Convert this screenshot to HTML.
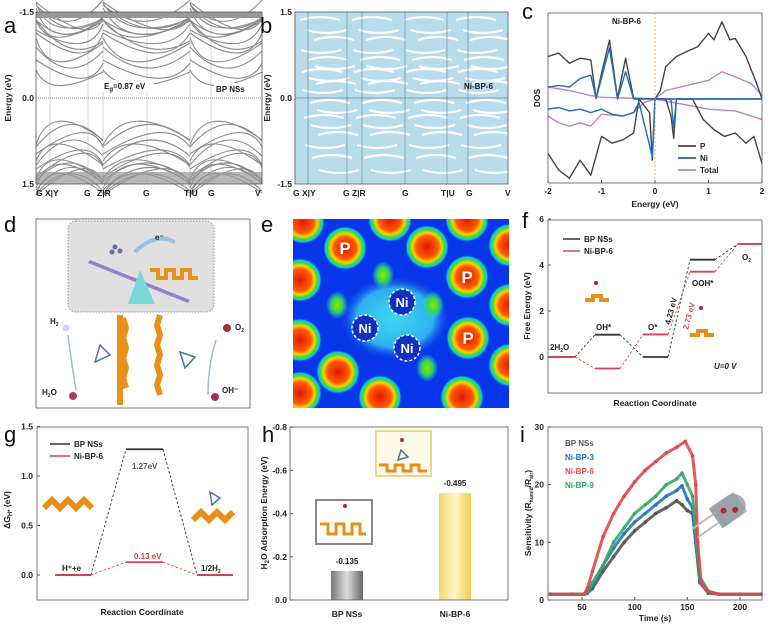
<!DOCTYPE html>
<html><head><meta charset="utf-8">
<style>
body{margin:0;background:#fff;}
svg{display:block;font-family:"Liberation Sans",Arial,sans-serif;}
.t{font-size:8px;font-weight:bold;fill:#222;}
.ax{font-size:8.5px;font-weight:bold;fill:#222;}
.let{font-size:22px;fill:#111;}
</style></head>
<body>
<svg id="fig" width="779" height="634" viewBox="0 0 779 634">
<defs>
<radialGradient id="spot"><stop offset="0" stop-color="#e01800"/><stop offset="0.5" stop-color="#ff5a00"/><stop offset="0.66" stop-color="#ffd000"/><stop offset="0.8" stop-color="#30e040"/><stop offset="0.9" stop-color="#10c8e0"/><stop offset="1" stop-color="#1040e8" stop-opacity="0"/></radialGradient>
<radialGradient id="gspot"><stop offset="0" stop-color="#a0e000"/><stop offset="0.5" stop-color="#30d850"/><stop offset="1" stop-color="#30e0c0" stop-opacity="0"/></radialGradient>
<radialGradient id="cyan"><stop offset="0" stop-color="#40d8f0"/><stop offset="0.7" stop-color="#30b0f0"/><stop offset="1" stop-color="#1040e8" stop-opacity="0"/></radialGradient>
<linearGradient id="gbar" x1="0" x2="1"><stop offset="0" stop-color="#777"/><stop offset="0.5" stop-color="#ddd"/><stop offset="1" stop-color="#666"/></linearGradient>
<linearGradient id="ybar" x1="0" x2="1"><stop offset="0" stop-color="#f5d870"/><stop offset="0.5" stop-color="#fff6c8"/><stop offset="1" stop-color="#f0cc50"/></linearGradient>
</defs>

<!-- Panel a -->
<g>
<text class="let" x="4" y="33">a</text>
<g id="bandsA"></g>
<rect x="36" y="12" width="226" height="172" fill="none" stroke="#555" stroke-width="0.8"/>
<line x1="36" y1="98" x2="262" y2="98" stroke="#888" stroke-dasharray="1,1"/>
<text class="ax" x="34" y="15" text-anchor="end">-1.5</text>
<text class="ax" x="34" y="101" text-anchor="end">0.0</text>
<text class="ax" x="34" y="187" text-anchor="end">1.5</text>
<text class="ax" transform="translate(11,98) rotate(-90)" text-anchor="middle">Energy (eV)</text>
<text class="ax" x="36" y="196">G X|Y</text><text class="ax" x="84" y="196">G</text><text class="ax" x="97" y="196">Z|R</text><text class="ax" x="143" y="196">G</text><text class="ax" x="184" y="196">T|U</text><text class="ax" x="208" y="196">G</text><text class="ax" x="255" y="196">V</text>
<rect x="102" y="80" width="52" height="12" fill="#fff"/>
<text class="t" x="104" y="89">E<tspan font-size="6" dy="2">g</tspan><tspan dy="-2">=0.87 eV</tspan></text>
<rect x="214" y="83" width="44" height="12" fill="#fff"/>
<text class="t" x="216" y="92">BP NSs</text>
</g>

<!-- Panel b -->
<g>
<text class="let" x="260" y="33">b</text>
<rect x="295" y="12" width="213" height="172" fill="#b9dcec"/>
<g id="bandsB"></g>
<rect x="295" y="12" width="213" height="172" fill="none" stroke="#555" stroke-width="0.8"/>
<line x1="295" y1="98" x2="508" y2="98" stroke="#557" stroke-width="0.6"/>
<text class="ax" x="292" y="15" text-anchor="end">1.5</text>
<text class="ax" x="292" y="101" text-anchor="end">0.0</text>
<text class="ax" x="292" y="187" text-anchor="end">-1.5</text>
<text class="ax" transform="translate(270,98) rotate(-90)" text-anchor="middle">Energy (eV)</text>
<text class="ax" x="293" y="196">G X|Y</text><text class="ax" x="343" y="196">G Z|R</text><text class="ax" x="402" y="196">G</text><text class="ax" x="441" y="196">T|U</text><text class="ax" x="466" y="196">G</text><text class="ax" x="505" y="196">V</text>
<text class="t" x="464" y="89">Ni-BP-6</text>
</g>

<!-- Panel c -->
<g>
<text class="let" x="522" y="19">c</text>
<g id="dosC"></g>
<rect x="548" y="13" width="214" height="170" fill="none" stroke="#555" stroke-width="0.8"/>
<line x1="655" y1="13" x2="655" y2="183" stroke="#e0a040" stroke-dasharray="2,2" stroke-width="0.8"/>
<text class="t" x="612" y="24">Ni-BP-6</text>
<g id="cTicks"></g>
<text class="ax" x="655" y="207" text-anchor="middle">Energy (eV)</text>
<text class="ax" transform="translate(540,98) rotate(-90)" text-anchor="middle">DOS</text>
<line x1="678" y1="146" x2="696" y2="146" stroke="#444" stroke-width="1.8"/><text class="t" x="700" y="149">P</text>
<line x1="678" y1="158" x2="696" y2="158" stroke="#1d5fa8" stroke-width="1.8"/><text class="t" x="700" y="161">Ni</text>
<line x1="678" y1="170" x2="696" y2="170" stroke="#c080d0" stroke-width="1.8"/><text class="t" x="700" y="173">Total</text>
</g>

<!-- Panel d -->
<g>
<text class="let" x="4" y="232">d</text>
<rect x="36" y="219" width="214" height="189" fill="#fff" stroke="#555" stroke-width="0.8"/>
<rect x="68" y="221" width="146" height="91" rx="8" fill="#e0e0e0" stroke="#999" stroke-dasharray="1.5,1.5"/>
<polygon points="90,260 190,300 188,303 88,263" fill="#9a7ec8"/>
<polygon points="140,270 155,304 128,304" fill="#7cd8d8"/>
<path d="M135,252 q20,-20 40,-10" fill="none" stroke="#9cc0e0" stroke-width="4"/>
<text class="t" x="155" y="240">e⁻</text>
<circle cx="115" cy="247" r="2.5" fill="#6070a0"/><circle cx="120" cy="251" r="2.5" fill="#6070a0"/><circle cx="112" cy="252" r="2.5" fill="#6070a0"/>
<path d="M150,270 h8 v8 h8 v-8 h8 v8 h8 v-8 h8 v8 h8" fill="none" stroke="#e8901a" stroke-width="4"/>
<path d="M120,315 v90 M123,318 l3,10 l-3,10 l3,10 l-3,10 l3,10 l-3,10 l3,10" fill="none" stroke="#e8901a" stroke-width="6"/>
<path d="M160,315 l-3,10 l3,10 l-3,10 l3,10 l-3,10 l3,10 l-3,10 l3,10" fill="none" stroke="#e8901a" stroke-width="6"/>
<polygon points="100,345 110,355 95,362" fill="none" stroke="#5070a0" stroke-width="1.5"/>
<polygon points="180,352 195,357 185,368" fill="none" stroke="#5070a0" stroke-width="1.5"/>
<text class="t" x="50" y="324">H<tspan font-size="5" dy="2">2</tspan></text>
<circle cx="66" cy="328" r="3.5" fill="#d8d0e8"/>
<path d="M76,390 q-5,-30 -8,-55" fill="none" stroke="#a8b8d0" stroke-width="1.5"/>
<text class="t" x="42" y="395">H<tspan font-size="5" dy="2">2</tspan><tspan dy="-2">O</tspan></text>
<circle cx="73" cy="396" r="4" fill="#b04050"/>
<text class="t" x="235" y="330">O<tspan font-size="5" dy="2">2</tspan></text>
<circle cx="227" cy="328" r="4" fill="#a03040"/>
<path d="M208,395 q0,-30 8,-55" fill="none" stroke="#a8b8d0" stroke-width="1.5"/>
<text class="t" x="222" y="393">OH⁻</text>
<circle cx="215" cy="397" r="4" fill="#a03060"/>
</g>

<!-- Panel e -->
<g>
<text class="let" x="261" y="232">e</text>
<svg x="293" y="219" width="216" height="189" viewBox="293 219 216 189" overflow="hidden">
<rect x="293" y="219" width="216" height="189" fill="#0636e8"/>
<ellipse cx="395" cy="318" rx="55" ry="42" fill="url(#cyan)"/>
<g id="eSpots"></g>
</svg>
</g>

<!-- Panel f -->
<g>
<text class="let" x="522" y="228">f</text>
<g id="fPlot"></g>
<rect x="548" y="220" width="214" height="173" fill="none" stroke="#555" stroke-width="0.8"/>
<text class="ax" transform="translate(530,306) rotate(-90)" text-anchor="middle">Free Energy (eV)</text>
<text class="ax" x="655" y="406" text-anchor="middle">Reaction Coordinate</text>
<line x1="563" y1="239" x2="580" y2="239" stroke="#333" stroke-width="1.5"/><text class="t" x="584" y="242">BP NSs</text>
<line x1="563" y1="251" x2="580" y2="251" stroke="#d64550" stroke-width="1.5"/><text class="t" x="584" y="254">Ni-BP-6</text>
<text class="t" x="550" y="350">2H<tspan font-size="5" dy="2">2</tspan><tspan dy="-2">O</tspan></text>
<text class="t" x="596" y="330">OH*</text>
<text class="t" x="648" y="330">O*</text>
<text class="t" x="692" y="286">OOH*</text>
<text class="t" x="742" y="260">O<tspan font-size="5" dy="2">2</tspan></text>
<text class="t" x="714" y="369" font-style="italic">U=0 V</text>
<text class="t" transform="translate(670,325) rotate(-75)" fill="#333">4.23 eV</text>
<text class="t" transform="translate(688,330) rotate(-75)" style="fill:#d64550">2.73 eV</text>
<path d="M585,300 h8 v-4 h8 v4 h8" fill="none" stroke="#e8901a" stroke-width="4"/>
<circle cx="596" cy="283" r="2" fill="#c02030"/>
<path d="M690,335 h8 v-4 h8 v4 h8" fill="none" stroke="#e8901a" stroke-width="4"/>
<circle cx="701" cy="308" r="2" fill="#c02030"/>
</g>

<!-- Panel g -->
<g>
<text class="let" x="4" y="442">g</text>
<g id="gPlot"></g>
<rect x="37" y="427" width="211" height="173" fill="none" stroke="#555" stroke-width="0.8"/>
<text class="ax" transform="translate(10,510) rotate(-90)" text-anchor="middle">ΔG<tspan font-size="6" dy="2">H*</tspan><tspan dy="-2"> (eV)</tspan></text>
<text class="ax" x="142" y="615" text-anchor="middle">Reaction Coordinate</text>
<line x1="50" y1="444" x2="70" y2="444" stroke="#333" stroke-width="1.5"/><text class="t" x="74" y="447">BP NSs</text>
<line x1="50" y1="456" x2="70" y2="456" stroke="#d64550" stroke-width="1.5"/><text class="t" x="74" y="459">Ni-BP-6</text>
<text class="t" x="132" y="469" style="fill:#555">1.27eV</text>
<text class="t" x="134" y="559" style="fill:#d64550">0.13 eV</text>
<text class="t" x="62" y="571">H⁺+e</text>
<text class="t" x="201" y="571">1/2H<tspan font-size="5" dy="2">2</tspan></text>
<path d="M44,508 l8,-8 l8,8 l8,-8 l8,8 l8,-8 l8,8" fill="none" stroke="#e8901a" stroke-width="6"/>
<path d="M193,520 l8,-8 l8,8 l8,-8 l8,8 l8,-8" fill="none" stroke="#e8901a" stroke-width="6"/>
<polygon points="210,492 220,498 212,505" fill="none" stroke="#5070b0" stroke-width="1.5"/>
</g>

<!-- Panel h -->
<g>
<text class="let" x="262" y="442">h</text>
<g id="hPlot"></g>
<rect x="290" y="427" width="218" height="173" fill="none" stroke="#555" stroke-width="0.8"/>
<text class="ax" transform="translate(267,513) rotate(-90)" text-anchor="middle">H<tspan font-size="6" dy="2">2</tspan><tspan dy="-2">O Adsorption Energy (eV)</tspan></text>
<rect x="316" y="500" width="56" height="44" fill="#fff" stroke="#888" stroke-width="2"/>
<path d="M320,524 h8 v10 h8 v-10 h8 v10 h8 v-10 h8 v10 h6" fill="none" stroke="#e8901a" stroke-width="3"/>
<circle cx="345" cy="506" r="2" fill="#c02030"/>
<rect x="376" y="431" width="55" height="45" fill="#fffbe8" stroke="#e8d890" stroke-width="2"/>
<path d="M379,465 h8 v6 h8 v-6 h8 v6 h8 v-6 h8 v6 h8" fill="none" stroke="#e8901a" stroke-width="3"/>
<circle cx="402" cy="440" r="2" fill="#c02030"/>
<polygon points="401,450 398,460 408,457" fill="none" stroke="#5070b0" stroke-width="1.5"/>
</g>

<!-- Panel i -->
<g>
<text class="let" x="520" y="442">i</text>
<g id="iPlot"></g>
<rect x="548" y="427" width="214" height="173" fill="none" stroke="#555" stroke-width="0.8"/>
<text class="ax" x="655" y="621" text-anchor="middle">Time (s)</text>
<text class="ax" transform="translate(531,513) rotate(-90)" text-anchor="middle">Sensitivity (R<tspan font-size="5" dy="2">humid</tspan><tspan dy="-2">/R</tspan><tspan font-size="5" dy="2">air</tspan><tspan dy="-2">)</tspan></text>
<text class="t" x="565" y="446" style="fill:#555">BP NSs</text>
<text class="t" x="565" y="460" style="fill:#1d6fc0">Ni-BP-3</text>
<text class="t" x="565" y="474" style="fill:#e04848">Ni-BP-6</text>
<text class="t" x="565" y="488" style="fill:#30a060">Ni-BP-9</text>
<g transform="translate(728,510) rotate(-35)">
<rect x="-15" y="-12" width="30" height="24" fill="#9ad0ec"/>
<path d="M-15,-12 h22 a12,12 0 0 1 0,24 h-22z" fill="#999" opacity="0.8"/>
<circle cx="-4" cy="-2" r="3" fill="#c02030"/><circle cx="6" cy="4" r="3" fill="#c02030"/>
<line x1="-15" y1="-5" x2="-40" y2="-5" stroke="#bbb" stroke-width="2"/><line x1="-15" y1="5" x2="-40" y2="5" stroke="#bbb" stroke-width="2"/>
</g>
</g>
</svg>

<script>
var NS='http://www.w3.org/2000/svg';
function mk(p,tag,attrs){var e=document.createElementNS(NS,tag);for(var k in attrs)e.setAttribute(k,attrs[k]);p.appendChild(e);return e;}
function txt(p,x,y,s,anchor,cls){var e=mk(p,'text',{x:x,y:y,'text-anchor':anchor||'middle','class':cls||'ax'});e.textContent=s;return e;}

// ---- Panel c data (DOS) ----
var cTickLabels=['-2','-1','0','1','2'];
var cTickValues=[-2,-1,0,1,2];
var pUpE=[-2,-1.8,-1.6,-1.4,-1.2,-1.1,-1.0,-0.85,-0.7,-0.55,-0.4,0,0.1,0.2,0.4,0.6,0.8,1.0,1.1,1.25,1.4,1.5,1.7,1.9,2];
var pUpV=[1.25,1.35,1.05,1.2,1.15,0.02,0.75,1.73,0.02,1.2,0.02,0,0.26,0.95,1.25,1.4,1.54,1.93,1.74,2.27,1.74,1.78,1.25,0.46,0];
var pDnE=[-2,-1.8,-1.6,-1.4,-1.2,-1.0,-0.8,-0.6,-0.4,-0.3,-0.1,-0.05,0,0.2,0.3,0.35,0.4,0.7,0.9,1.1,1.3,1.5,1.7,1.85,2];
var pDnV=[-1.6,-2.09,-2.33,-1.8,-2.24,-1.1,-1.3,-1.2,-1.0,0,-0.4,-1.8,0,0,-0.5,-1.16,0,0,-0.6,-0.9,-1.1,-1.0,-1.3,-1.1,-1.9];
var niUpE=[-2,-1.8,-1.6,-1.4,-1.2,-1.1,-0.85,-0.7,-0.55,-0.4,2];
var niUpV=[0.35,0.4,0.35,0.6,0.7,0.02,1.5,0,0.8,0,0];
var niDnE=[-2,-1.8,-1.6,-1.4,-1.2,-1.0,-0.8,-0.6,-0.4,-0.3,-0.05,0,0.3,0.35,0.4,2];
var niDnV=[-0.3,-0.25,-0.35,-0.3,-0.4,-0.3,-0.45,-0.5,-0.4,-0.1,-1.7,0,0,-0.85,0,0];
var totUpE=[-2,-1.6,-1.2,-1.0,-0.6,0,0.2,0.6,1.0,1.25,1.5,1.8,2];
var totUpV=[0.35,0.25,0.1,0.05,0.03,0,0.25,0.4,0.55,0.8,0.65,0.45,0.1];
var totDnE=[-2,-1.8,-1.6,-1.4,-1.2,-1.0,-0.6,-0.4,-0.2,0,0.5,1.0,1.5,2];
var totDnV=[-0.5,-0.7,-0.8,-0.7,-0.8,-0.45,-0.5,-0.4,-0.1,0,-0.15,-0.3,-0.35,-0.6];

// ---- Panel f data ----
var fTickLabels=['0','2','4','6'];
var fTickValues=[0,2,4,6];
var fSteps=['2H2O','OH*','O*','OOH*','O2'];
var fBP=[0,0.97,0,4.23,4.92];
var fNi=[0,-0.5,0.98,3.71,4.92];

// ---- Panel g data ----
var gTickLabels=['0.0','0.5','1.0','1.5'];
var gTickValues=[0,0.5,1.0,1.5];
var gSteps=['H+e','H*','1/2H2'];
var gBP=[0,1.27,0];
var gNi=[0,0.13,0];

// ---- Panel h data ----
var hCategories=['BP NSs','Ni-BP-6'];
var hValues=[-0.135,-0.495];
var hLabels=['-0.135','-0.495'];
var hTickLabels=['0.0','-0.2','-0.4','-0.6','-0.8'];
var hTickValues=[0,-0.2,-0.4,-0.6,-0.8];

// ---- Panel i data ----
var iTickLabels=['50','100','150','200'];
var iTickValues=[50,100,150,200];
var iYTickLabels=['0','10','20','30'];
var iYTickValues=[0,10,20,30];
var iTimeRed=[20,40,52,55,60,70,80,90,100,110,120,130,140,148,155,158,160,163,170,180,200,220];
var iRed=[1,1,1,2,5,11,15,18,20.5,22.5,24,25.5,26.5,27.5,25,20,10,3,1.5,1,1,1];
var iTimeGreen=[20,40,52,55,60,70,80,90,100,110,120,130,140,145,150,155,158,162,170,180,200,220];
var iGreen=[1,1,1,1.5,3,6,10,12.5,15,16.5,18,20,21,22,20,18,12,4,1.5,1,1,1];
var iTimeBlue=[20,40,52,55,60,70,80,90,100,110,120,130,140,145,150,155,158,162,170,180,200,220];
var iBlue=[1,1,1,1.5,2.5,6,9,11.5,13.5,15,16.5,18,19,19.8,17.5,16,10,3,1.5,1,1,1];
var iTimeBlack=[20,40,52,55,60,70,80,90,100,110,120,130,140,145,150,155,158,162,170,180,200,220];
var iBlack=[1,1,1,1.2,2,5,7.5,10,12,13.5,15,16,17.2,16.5,15.5,15,10,3,1.2,1,1,1];

// ---- axis functions ----
function cx(e){return 548+(e+2)/4*214;}
function cy(v){return 99-v*34;}
function fy(v){return 357-v*23;}
function gy(v){return 575-v*99;}
function hy(v){return 600+v*216;}
function ix(t){return 548+(t-17.7)*1.053;}
function iy(v){return 600-v*5.767;}
var fX=[[548,575],[595,620],[643,668],[690,715],[738,762]];
var gX=[[55,91],[126,163],[197,233]];
var hX=[347,455];

// Panel a decorative bands
(function(){
 var g=document.getElementById('bandsA');
 var vx=[50,88,103,147,190,211];
 vx.forEach(function(x){mk(g,'line',{x1:x,y1:12,x2:x,y2:184,stroke:'#bbb','stroke-width':0.6});});
 var segs=[[36,103],[103,190],[190,262]];
 var cond=[58,62,70,75,40,48,30,25,22,18,15,35,28,20];
 var val=[125,130,140,150,145,160,165,170,175,178,180,158,168,173];
 segs.forEach(function(s,si){
  cond.forEach(function(c,i){var m=(s[0]+s[1])/2+(i%3-1)*20;mk(g,'path',{d:'M'+s[0]+','+(c-20+i%4*5)+' Q'+m+','+(c+25)+' '+s[1]+','+(c-15+i%5*4),fill:'none',stroke:'#8a8a8a','stroke-width':1.1});});
  val.forEach(function(c,i){var m=(s[0]+s[1])/2+(i%3-1)*20;mk(g,'path',{d:'M'+s[0]+','+(c+20-i%4*3)+' Q'+m+','+(c-25)+' '+s[1]+','+(c+15-i%3*4),fill:'none',stroke:'#8a8a8a','stroke-width':1.1});});
 });
 mk(g,'rect',{x:36,y:12,width:226,height:6,fill:'#999'});
 mk(g,'rect',{x:36,y:172,width:226,height:12,fill:'#999',opacity:0.7});
})();
// Panel b decorative white gaps
(function(){
 var g=document.getElementById('bandsB');
 var ys=[20,30,40,50,60,66,72,78,84,90,103,110,118,125,135,145,158,170];
 ys.forEach(function(y,i){
  for(var k=0;k<4;k++){var x=300+k*52+(i*7%20);mk(g,'path',{d:'M'+x+','+y+' q20,'+(i%2?6:-6)+' 40,0',fill:'none',stroke:'#fff','stroke-width':2.2});}
 });
 [308,347,362,405,447,468].forEach(function(x){mk(g,'line',{x1:x,y1:12,x2:x,y2:184,stroke:'#6a8aa0','stroke-width':0.7});});
})();

// Panel c
(function(){
 var g=document.getElementById('dosC');
 function line(E,V,col,name){
  var d=E.map(function(e,i){return (i?'L':'M')+cx(e).toFixed(1)+','+cy(V[i]).toFixed(1);}).join(' ');
  var p=mk(g,'path',{d:d,fill:'none',stroke:col,'stroke-width':1.4,'stroke-linejoin':'round'});
  
  
 }
 line(totUpE,totUpV,'#c080d0','dos-total-up');line(totDnE,totDnV,'#c080d0','dos-total-down');
 line(pUpE,pUpV,'#444','dos-p-up');line(pDnE,pDnV,'#444','dos-p-down');
 line(niUpE,niUpV,'#1d6fb8','dos-ni-up');line(niDnE,niDnV,'#1d6fb8','dos-ni-down');
 var t=document.getElementById('cTicks');
 cTickValues.forEach(function(v,i){mk(t,'line',{x1:cx(v),y1:183,x2:cx(v),y2:180,stroke:'#555'});txt(t,cx(v),194,cTickLabels[i]);});
})();

// Panel e
(function(){
 var g=document.getElementById('eSpots');
 var reds=[[345,248],[467,277],[468,338],[300,280],[300,340],[427,247],[338,372],[462,397],[380,397],[300,393],[390,220],[303,222],[467,220],[510,305],[510,365],[510,245]];
 var greens=[[383,275],[337,305],[433,305],[427,368]];
 greens.forEach(function(p){mk(g,'ellipse',{cx:p[0],cy:p[1],rx:11,ry:14,fill:'url(#gspot)'});});
 reds.forEach(function(p){mk(g,'circle',{cx:p[0],cy:p[1],r:22,fill:'url(#spot)'});});
 [[345,248],[467,277],[468,338]].forEach(function(p){var t=txt(g,p[0],p[1]+6,'P','middle');t.setAttribute('style','font-size:17px;font-weight:bold;fill:#fff');});
 [[402,302],[365,328],[407,348]].forEach(function(p){mk(g,'circle',{cx:p[0],cy:p[1],r:13,fill:'#1030c0',stroke:'#fff','stroke-width':1.5,'stroke-dasharray':'3,2'});var t=txt(g,p[0],p[1]+5,'Ni','middle');t.setAttribute('style','font-size:13px;font-weight:bold;fill:#fff');});
})();

// Panel f
(function(){
 var g=document.getElementById('fPlot');
 fTickValues.forEach(function(v,i){mk(g,'line',{x1:548,y1:fy(v),x2:551,y2:fy(v),stroke:'#555'});txt(g,544,fy(v)+3,fTickLabels[i],'end');});
 function series(vals,col,name){
  vals.forEach(function(v,i){
   var s=mk(g,'line',{x1:fX[i][0],y1:fy(v),x2:fX[i][1],y2:fy(v),stroke:col,'stroke-width':1.8});
   
   
   if(i>0)mk(g,'line',{x1:fX[i-1][1],y1:fy(vals[i-1]),x2:fX[i][0],y2:fy(v),stroke:col,'stroke-width':0.9,'stroke-dasharray':'2.5,2'});
  });
 }
 series(fBP,'#333','f-bp');series(fNi,'#d64550','f-ni');
})();

// Panel g
(function(){
 var g=document.getElementById('gPlot');
 gTickValues.forEach(function(v,i){mk(g,'line',{x1:37,y1:gy(v),x2:40,y2:gy(v),stroke:'#555'});txt(g,33,gy(v)+3,gTickLabels[i],'end');});
 function series(vals,col,name){
  vals.forEach(function(v,i){
   var s=mk(g,'line',{x1:gX[i][0],y1:gy(v),x2:gX[i][1],y2:gy(v),stroke:col,'stroke-width':1.8});
   
   
   if(i>0)mk(g,'line',{x1:gX[i-1][1],y1:gy(vals[i-1]),x2:gX[i][0],y2:gy(v),stroke:col,'stroke-width':0.9,'stroke-dasharray':'2.5,2'});
  });
 }
 series(gBP,'#333','g-bp');series(gNi,'#d64550','g-ni');
})();

// Panel h
(function(){
 var g=document.getElementById('hPlot');
 hTickValues.forEach(function(v,i){mk(g,'line',{x1:290,y1:hy(v),x2:293,y2:hy(v),stroke:'#555'});txt(g,287,hy(v)+3,hTickLabels[i],'end');});
 hValues.forEach(function(v,i){
  var b=mk(g,'rect',{x:hX[i]-16,y:hy(v),width:32,height:600-hy(v),fill:i?'url(#ybar)':'url(#gbar)'});
  
  
  txt(g,hX[i],hy(v)-7,hLabels[i],'middle','t');
  txt(g,hX[i],617,hCategories[i]);
 });
})();

// Panel i
(function(){
 var g=document.getElementById('iPlot');
 iTickValues.forEach(function(v,i){mk(g,'line',{x1:ix(v),y1:600,x2:ix(v),y2:597,stroke:'#555'});txt(g,ix(v),610,iTickLabels[i]);});
 iYTickValues.forEach(function(v,i){mk(g,'line',{x1:548,y1:iy(v),x2:551,y2:iy(v),stroke:'#555'});txt(g,544,iy(v)+3,iYTickLabels[i],'end');});
 function series(T,V,col,name){
  var d=T.map(function(t,i){return (i?'L':'M')+ix(t).toFixed(1)+','+iy(V[i]).toFixed(1);}).join(' ');
  var p=mk(g,'path',{d:d,fill:'none',stroke:col,'stroke-width':3,'stroke-linejoin':'round',opacity:0.9});
  
  
  T.forEach(function(t,i){mk(g,'circle',{cx:ix(t),cy:iy(V[i]),r:1.8,fill:col});});
 }
 series(iTimeBlack,iBlack,'#555','series-bp-nss');
 series(iTimeBlue,iBlue,'#2a72c8','series-ni-bp-3');
 series(iTimeGreen,iGreen,'#38a868','series-ni-bp-9');
 series(iTimeRed,iRed,'#e04848','series-ni-bp-6');
})();
</script>
</body></html>
